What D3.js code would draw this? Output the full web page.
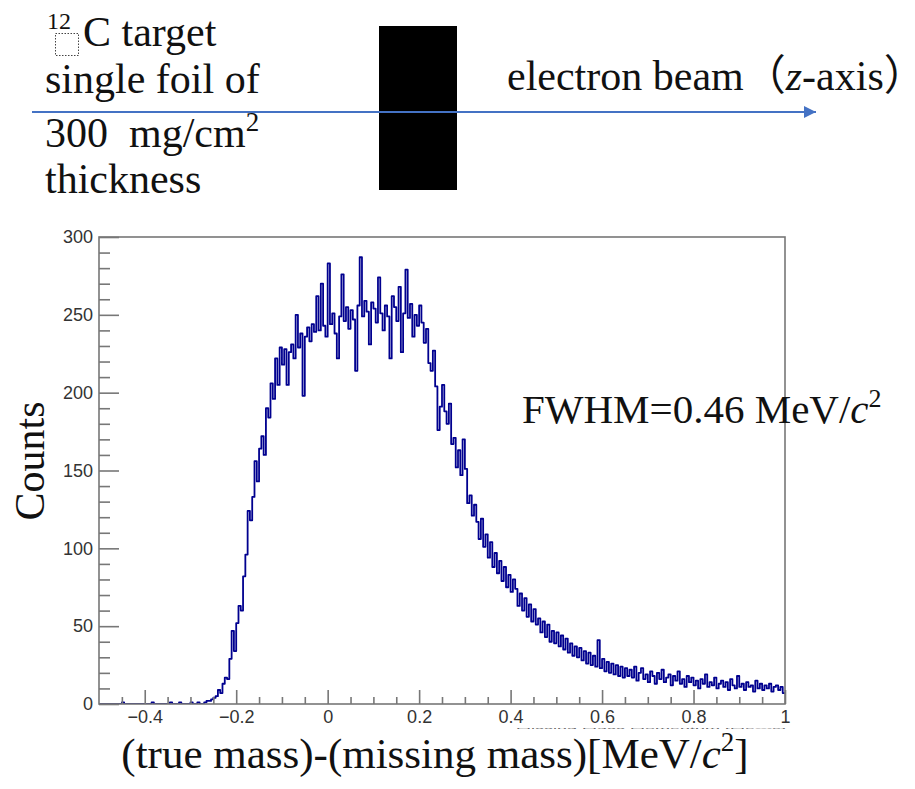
<!DOCTYPE html>
<html>
<head>
<meta charset="utf-8">
<script src="https://cdn.jsdelivr.net/npm/d3@7"></script>
<style>
  html, body { margin: 0; padding: 0; background: #fff; }
  svg { display: block; }
</style>
</head>
<body>
<div id="chart"></div>
<script>
// histogram counts, bins of 0.005 MeV/c^2 from -0.5 to 1.0
const counts = [
  0,0,0,0,0,0,0,0,0,0, 1,0,0,0,0,0,0,0,0,0,
  0,0,0,1,0,0,0,0,0,0, 0,1,0,0,0,1,0,0,0,0,
  1,0,0,1,0,0,1,2,
  // rise
  2,3,4,5,9,7,13,17,16,29,47,34,52,63,60,82,96,124,118,133,
  156,143,164,172,160,190,184,206,196,222,205,229,
  // plateau
  218,228,205,226,231,222,250,229,238,198,236,242,233,244,239,262,240,270,243,236,
  283,244,251,238,222,249,276,246,255,241,253,247,214,256,287,249,259,252,231,258,
  254,245,274,251,240,256,249,222,262,255,246,268,226,251,279,248,257,236,250,243,
  256,245,
  // fall
  232,241,219,214,227,204,176,191,205,188,180,193,167,171,152,163,147,170,151,129,
  134,121,128,117,106,119,101,109,
  // tail
  94,104,88,97,84,92,79,88,75,83,72,80,74,63,71,60,68,56,64,53,
  61,51,55,46,53,43,51,40,47,39,46,37,44,35,42,33,39,31,37,30,
  36,28,34,26,33,25,31,24,41,23,29,21,27,20,26,19,25,18,24,17,
  23,18,
  22,17,24,15,20,23,16,19,14,21, 18,13,20,16,22,14,17,19,12,18,
  15,21,13,16,11,18,14,17,12,15, 10,16,13,19,11,14,12,17,10,13,
  15,11,14,9,16,12,10,18,11,13, 9,14,11,12,8,15,10,13,9,12,
  10,13,8,11,12,9,11,7
];
const binLow = -0.5;
const binWidth = 0.005;

const xDomain = [-0.5, 1.0];
const yDomain = [0, 300];
const xMajor = [-0.4, -0.2, 0, 0.2, 0.4, 0.6, 0.8, 1];
const xMinor = [-0.45, -0.35, -0.3, -0.25, -0.15, -0.1, -0.05, 0.05, 0.1, 0.15,
                0.25, 0.3, 0.35, 0.45, 0.5, 0.55, 0.65, 0.7, 0.75, 0.85, 0.9, 0.95];
const yMajor = [0, 50, 100, 150, 200, 250, 300];
const yMinor = [10, 20, 30, 40, 60, 70, 80, 90, 110, 120, 130, 140, 160, 170, 180, 190,
                210, 220, 230, 240, 260, 270, 280, 290];

const W = 915, H = 789;
const serif = "'Liberation Serif', 'Times New Roman', serif";
const sans = "'Liberation Sans', Arial, Helvetica, sans-serif";
const cjk = "'Noto Sans CJK SC', serif";

const svg = d3.select("#chart").append("svg")
    .attr("width", W)
    .attr("height", H);

// ---- sketch of the setup at the top ----
const blue = "#4472C4";
svg.append("defs").append("marker")
    .attr("id", "arrow")
    .attr("viewBox", "0 0 10 10")
    .attr("refX", 10).attr("refY", 5)
    .attr("markerWidth", 7).attr("markerHeight", 6)
    .attr("markerUnits", "strokeWidth")
    .attr("orient", "auto")
    .append("path")
    .attr("d", "M0,0 L10,5 L0,10 Z")
    .attr("fill", blue);

svg.append("rect")
    .attr("x", 379).attr("y", 26)
    .attr("width", 78).attr("height", 164)
    .attr("fill", "#000");

svg.append("line")
    .attr("x1", 32).attr("y1", 112)
    .attr("x2", 816).attr("y2", 112)
    .attr("stroke", blue)
    .attr("stroke-width", 2)
    .attr("marker-end", "url(#arrow)");

const topText = svg.append("g")
    .style("font-family", serif)
    .attr("fill", "#111");

topText.append("text")
    .attr("x", 47).attr("y", 29)
    .style("font-size", "24px")
    .text("12");
topText.append("rect")
    .attr("x", 55.5).attr("y", 33.5)
    .attr("width", 23).attr("height", 22)
    .attr("fill", "none")
    .attr("stroke", "#444")
    .attr("stroke-width", 1)
    .attr("stroke-dasharray", "1.5,1.5");
topText.append("text")
    .attr("x", 83).attr("y", 46)
    .style("font-size", "42px")
    .text("C target");
topText.append("text")
    .attr("x", 45).attr("y", 93)
    .style("font-size", "42px")
    .text("single foil of");
const t300 = topText.append("text")
    .attr("x", 45).attr("y", 147)
    .style("font-size", "42px")
    .attr("xml:space", "preserve");
t300.append("tspan").text("300  mg/cm");
t300.append("tspan").attr("dy", -16).style("font-size", "27px").text("2");
topText.append("text")
    .attr("x", 45).attr("y", 193)
    .style("font-size", "42px")
    .text("thickness");

const beam = topText.append("text")
    .attr("x", 507).attr("y", 90)
    .style("font-size", "42px");
beam.append("tspan").text("electron beam");
beam.append("tspan").style("font-family", cjk).text("（");
beam.append("tspan").style("font-style", "italic").text("z");
beam.append("tspan").text("-axis");
beam.append("tspan")
    .style("font-family", cjk)
    .style("font-feature-settings", "'halt' 1")
    .text("）");

// ---- histogram panel ----
const x = d3.scaleLinear().domain(xDomain).range([99, 785]);
const y = d3.scaleLinear().domain(yDomain).range([704, 237]);
const axisColor = "#777";

svg.append("clipPath").attr("id", "plotClip")
    .append("rect")
    .attr("x", x(xDomain[0])).attr("y", y(yDomain[1]))
    .attr("width", x(xDomain[1]) - x(xDomain[0]))
    .attr("height", y(yDomain[0]) - y(yDomain[1]));

const points = counts.map((c, i) => [binLow + i * binWidth, c]);
points.push([binLow + counts.length * binWidth, counts[counts.length - 1]]);

const line = d3.line()
    .x(d => x(d[0]))
    .y(d => y(d[1]))
    .curve(d3.curveStepAfter);

svg.append("path")
    .datum(points)
    .attr("clip-path", "url(#plotClip)")
    .attr("fill", "none")
    .attr("stroke", "#00008f")
    .attr("stroke-width", 1.8)
    .attr("stroke-linejoin", "round")
    .attr("d", line);

// frame
svg.append("rect")
    .attr("x", x(xDomain[0])).attr("y", y(yDomain[1]))
    .attr("width", x(xDomain[1]) - x(xDomain[0]))
    .attr("height", y(yDomain[0]) - y(yDomain[1]))
    .attr("fill", "none")
    .attr("stroke", axisColor)
    .attr("stroke-width", 1.6);

// y axis (ticks point inward)
const yAxis = svg.append("g")
    .attr("transform", `translate(${x(xDomain[0])},0)`)
    .call(d3.axisLeft(y).tickValues(yMajor).tickSizeInner(-20).tickSizeOuter(0).tickPadding(6));
const yMinorAxis = svg.append("g")
    .attr("transform", `translate(${x(xDomain[0])},0)`)
    .call(d3.axisLeft(y).tickValues(yMinor).tickSizeInner(-11).tickSizeOuter(0).tickFormat(""));

// x axis
const fmt = v => (v < 0 ? "\u2212" + Math.abs(v) : String(v));
const xAxis = svg.append("g")
    .attr("transform", `translate(0,${y(yDomain[0])})`)
    .call(d3.axisBottom(x).tickValues(xMajor).tickSizeInner(-14).tickSizeOuter(0).tickPadding(6).tickFormat(fmt));
const xMinorAxis = svg.append("g")
    .attr("transform", `translate(0,${y(yDomain[0])})`)
    .call(d3.axisBottom(x).tickValues(xMinor).tickSizeInner(-7).tickSizeOuter(0).tickFormat(""));

[yAxis, yMinorAxis, xAxis, xMinorAxis].forEach(g => {
    g.select(".domain").remove();
    g.selectAll("line").attr("stroke", axisColor).attr("stroke-width", 1.6);
    g.selectAll("text")
        .style("font-family", sans)
        .style("font-size", "18px")
        .attr("fill", "#333");
});

// ROOT axis title, cut off by the page crop: only a squashed sliver shows
svg.append("text")
    .attr("transform", "translate(786,729.1) scale(1,0.14)")
    .attr("text-anchor", "end")
    .style("font-family", sans)
    .style("font-size", "18px")
    .attr("fill", "#666")
    .text("Missing Mass Momentum [MeV/c]");

// annotations in serif
svg.append("text")
    .attr("transform", "translate(44,461) rotate(-90)")
    .attr("text-anchor", "middle")
    .style("font-family", serif)
    .style("font-size", "42px")
    .attr("fill", "#111")
    .text("Counts");

const fwhm = svg.append("text")
    .attr("x", 522).attr("y", 423)
    .style("font-family", serif)
    .style("font-size", "41px")
    .attr("fill", "#111");
fwhm.append("tspan").text("FWHM=0.46 MeV/");
fwhm.append("tspan").style("font-style", "italic").text("c");
fwhm.append("tspan").attr("dy", -16).style("font-size", "26px").text("2");

const xTitle = svg.append("text")
    .attr("x", 435).attr("y", 768)
    .attr("text-anchor", "middle")
    .style("font-family", serif)
    .style("font-size", "43px")
    .attr("fill", "#111");
xTitle.append("tspan").text("(true mass)-(missing mass)[MeV/");
xTitle.append("tspan").style("font-style", "italic").text("c");
xTitle.append("tspan").attr("dy", -17).style("font-size", "27px").text("2");
xTitle.append("tspan").attr("dy", 17).text("]");
</script>
</body>
</html>
